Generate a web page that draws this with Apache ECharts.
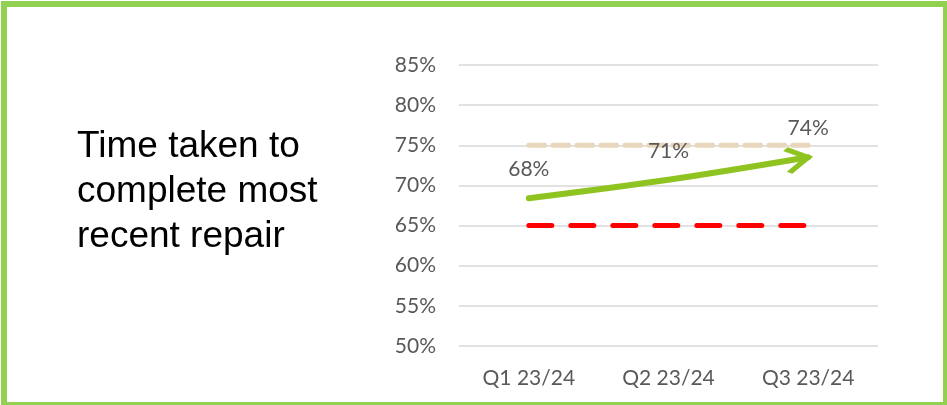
<!DOCTYPE html>
<html>
<head>
<meta charset="utf-8">
<script src="https://cdn.jsdelivr.net/npm/echarts@6/dist/echarts.min.js"></script>
<style>
html,body{margin:0;padding:0;background:#fff;}
#c{width:947px;height:405px;}
</style>
</head>
<body>
<div id="c"></div>
<script>
const categories = ['Q1 23/24', 'Q2 23/24', 'Q3 23/24'];
const actual = [68.4, 70.7, 73.5];
const upperTarget = [75, 75, 75];
const lowerTarget = [65, 65, 65];
const yMin = 50, yMax = 85, yStep = 5;
const titleText = 'Time taken to\ncomplete most\nrecent repair';

const chart = echarts.init(document.getElementById('c'), null, {renderer: 'canvas'});
const lastIdx = actual.length - 1;
const labelFont = {color: '#595959', fontFamily: 'Lato', fontSize: 21};
const option = {
  animation: false,
  backgroundColor: '#fff',
  grid: {left: 459, top: 65, width: 419, height: 281, containLabel: false},
  graphic: [
    {type: 'rect', shape: {x: 4, y: 4, width: 942, height: 401}, style: {fill: 'none', stroke: '#92d050', lineWidth: 6}, z: 100},
    {type: 'text', left: 77, top: 124, style: {text: titleText, font: '37px "Liberation Sans", Arial, sans-serif', lineHeight: 45, fill: '#000'}}
  ],
  xAxis: {
    type: 'category',
    data: categories,
    boundaryGap: true,
    axisLine: {show: false},
    axisTick: {show: false},
    axisLabel: Object.assign({margin: 22}, labelFont)
  },
  yAxis: {
    type: 'value',
    min: yMin, max: yMax, interval: yStep,
    axisLine: {show: false},
    axisTick: {show: false},
    axisLabel: Object.assign({margin: 23, formatter: v => v + '%'}, labelFont),
    splitLine: {lineStyle: {color: '#d9d9d9', width: 1.5}}
  },
  series: [
    {
      type: 'line', data: upperTarget, symbol: 'none', silent: true,
      lineStyle: {color: '#e8d6bd', width: 5, type: [16, 8], cap: 'round'}, z: 2
    },
    {
      type: 'line', data: lowerTarget, symbol: 'none', silent: true,
      lineStyle: {color: '#ff0000', width: 5, type: [23, 19], cap: 'round'}, z: 2
    },
    {
      type: 'line', data: actual, smooth: 0.35, z: 3, silent: true,
      lineStyle: {color: '#8fc31f', width: 6, cap: 'round'},
      symbol: (v, p) => p.dataIndex === lastIdx ? 'path://M0,0 L21,12 L0,24 M42,12 L42,12' : 'none',
      symbolSize: [42, 24],
      symbolRotate: 10,
      showAllSymbol: true,
      itemStyle: {color: 'none', borderColor: '#8fc31f', borderWidth: 5.5}
    },
    {
      type: 'line', data: actual, z: 5, silent: true,
      lineStyle: {opacity: 0, width: 0},
      symbol: 'circle', symbolSize: 1, showAllSymbol: true,
      itemStyle: {color: 'transparent', borderWidth: 0},
      label: Object.assign({show: true, position: 'top', distance: 18,
        formatter: p => Math.round(p.value) + '%'}, labelFont)
    }
  ]
};
chart.setOption(option);
</script>
</body>
</html>
